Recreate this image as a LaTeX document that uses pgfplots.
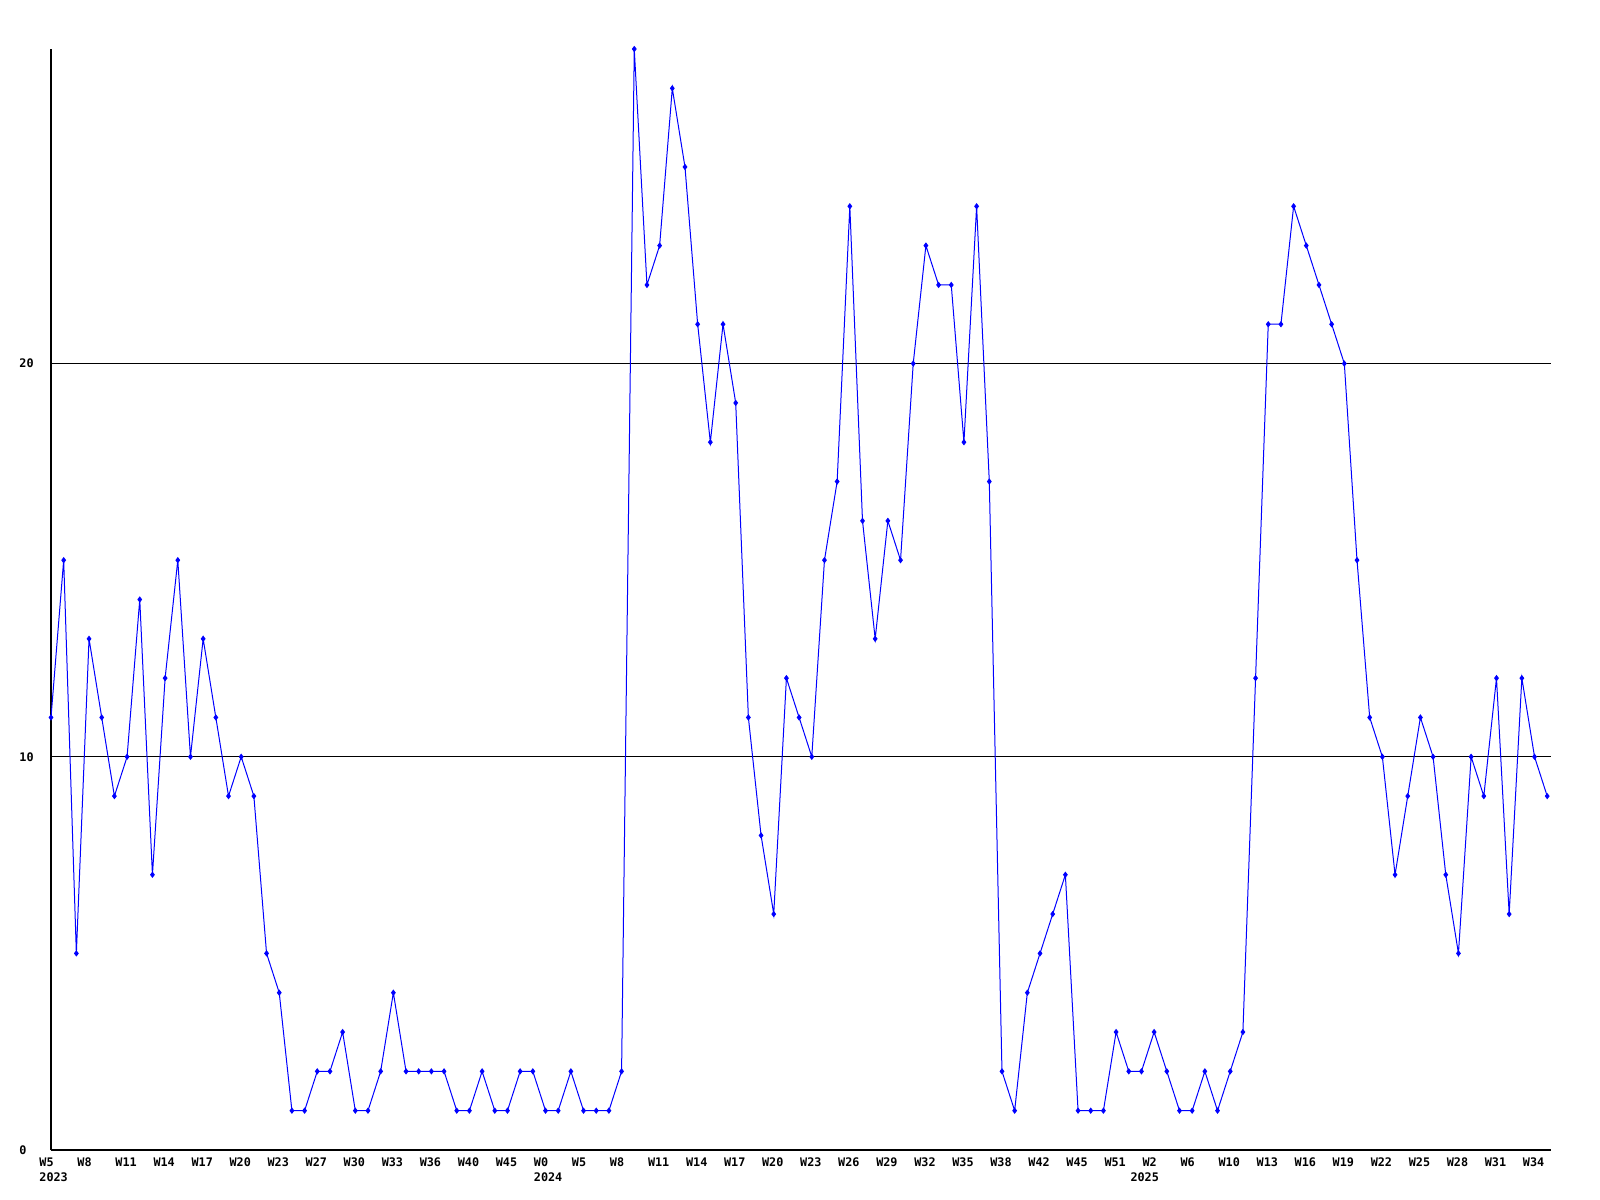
\documentclass[border=0pt]{standalone}
\usepackage{fontspec}
\usepackage{pgfplots}
\pgfplotsset{compat=1.18}
\newfontfamily\monofont{DejaVu Sans Mono}
\pgfplotstableread{
x y
0 11
1 15
2 5
3 13
4 11
5 9
6 10
7 14
8 7
9 12
10 15
11 10
12 13
13 11
14 9
15 10
16 9
17 5
18 4
19 1
20 1
21 2
22 2
23 3
24 1
25 1
26 2
27 4
28 2
29 2
30 2
31 2
32 1
33 1
34 2
35 1
36 1
37 2
38 2
39 1
40 1
41 2
42 1
43 1
44 1
45 2
46 28
47 22
48 23
49 27
50 25
51 21
52 18
53 21
54 19
55 11
56 8
57 6
58 12
59 11
60 10
61 15
62 17
63 24
64 16
65 13
66 16
67 15
68 20
69 23
70 22
71 22
72 18
73 24
74 17
75 2
76 1
77 4
78 5
79 6
80 7
81 1
82 1
83 1
84 3
85 2
86 2
87 3
88 2
89 1
90 1
91 2
92 1
93 2
94 3
95 12
96 21
97 21
98 24
99 23
100 22
101 21
102 20
103 15
104 11
105 10
106 7
107 9
108 11
109 10
110 7
111 5
112 10
113 9
114 12
115 6
116 12
117 10
118 9
}\datatable
\begin{document}
\begin{tikzpicture}
\path[use as bounding box] (-25.5bp,-25bp) rectangle (774.5bp,575bp);
\begin{axis}[
  at={(0,0)}, anchor=south west,
  scale only axis,
  width=750bp, height=550.5bp,
  xmin=0, xmax=118.3, ymin=0, ymax=28,
  axis x line=bottom, axis y line=left,
  axis line style={-, black, line width=0.6bp},
  major tick length=0pt,
  ytick={0,10,20},
  yticklabels={0,10,20},
  ymajorgrids,
  grid style={black, line width=0.5bp},
  xtick={0,3,...,117},
  xticklabels={{W5\\2023},W8,W11,W14,W17,W20,W23,W27,W30,W33,W36,W40,W45,{W0\\2024},W5,W8,W11,W14,W17,W20,W23,W26,W29,W32,W35,W38,W42,W45,W51,{W2\\\hspace*{-6bp}2025},W6,W10,W13,W16,W19,W22,W25,W28,W31,W34},
  /pgf/number format/assume math mode=true,
  xticklabel style={font=\monofont\bfseries\fontsize{5.9bp}{7.75bp}\selectfont, align=left, anchor=north west, inner sep=0pt, xshift=-6bp, yshift=-3.6bp},
  yticklabel style={font=\monofont\bfseries\fontsize{5.9bp}{7.75bp}\selectfont, anchor=west, inner sep=0pt, xshift=-16bp},
  clip=false,
]
\addplot[color={rgb,255:red,0;green,0;blue,255}, line width=0.5bp, mark=diamond*, mark size=1.2bp, mark options={solid}] table[x=x,y=y] {\datatable};
\end{axis}
\end{tikzpicture}
\end{document}
